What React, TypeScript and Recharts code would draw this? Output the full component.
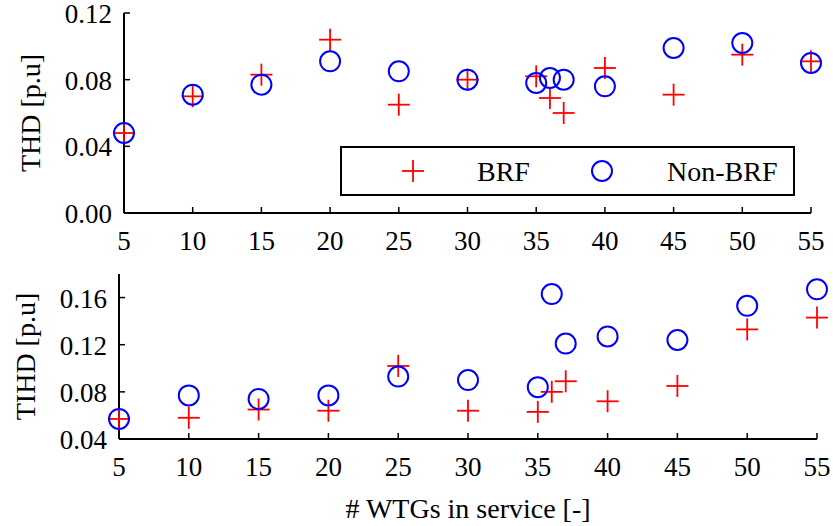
import { ScatterChart, Scatter, XAxis, YAxis, Legend } from "recharts";

const wtgs = [5, 10, 15, 20, 25, 30, 35, 36, 37, 40, 45, 50, 55];
const thdBrf = [0.048, 0.07, 0.083, 0.104, 0.065, 0.08, 0.082, 0.069, 0.06, 0.087, 0.071, 0.095, 0.091];
const thdNonBrf = [0.048, 0.071, 0.077, 0.091, 0.085, 0.08, 0.078, 0.081, 0.08, 0.076, 0.099, 0.102, 0.09];
const tihdBrf = [0.057, 0.058, 0.065, 0.064, 0.102, 0.064, 0.063, 0.08, 0.089, 0.072, 0.085, 0.133, 0.143];
const tihdNonBrf = [0.057, 0.077, 0.074, 0.077, 0.093, 0.09, 0.084, 0.163, 0.121, 0.127, 0.124, 0.153, 0.167];
const xTicks = [5, 10, 15, 20, 25, 30, 35, 40, 45, 50, 55];
const thdTicks = [0, 0.04, 0.08, 0.12];
const tihdTicks = [0.04, 0.08, 0.12, 0.16];

const FONT = "'Liberation Serif', serif";
const FS = 28;
const TICK_FS = 27;

const toPts = (vals: number[]) => wtgs.map((w, i) => ({ x: w, y: vals[i] }));

const Plus = ({ cx, cy }: any) => (
  <g>
    <line x1={cx - 11} x2={cx + 11} y1={cy} y2={cy} stroke="#ff0000" strokeWidth={1.8} />
    <line x1={cx} x2={cx} y1={cy - 11} y2={cy + 11} stroke="#ff0000" strokeWidth={1.8} />
  </g>
);

const Ring = ({ cx, cy }: any) => (
  <circle cx={cx} cy={cy} r={10} fill="none" stroke="#0000ff" strokeWidth={2} />
);

const XTick = ({ x, y, payload }: any) => (
  <g>
    <line x1={x} x2={x} y1={y} y2={y - 6} stroke="#000" strokeWidth={1.5} />
    <text x={x} y={y + 28} textAnchor="middle" dominantBaseline="central" fontFamily={FONT} fontSize={TICK_FS} fill="#000">
      {payload.value}
    </text>
  </g>
);

const YTick = ({ x, y, payload }: any) => (
  <g>
    <line x1={x} x2={x + 6} y1={y} y2={y} stroke="#000" strokeWidth={1.5} />
    <text x={x - 12} y={y + 1} textAnchor="end" dominantBaseline="central" fontFamily={FONT} fontSize={TICK_FS} fill="#000">
      {payload.value.toFixed(2)}
    </text>
  </g>
);

const yLabel = (text: string, cx: number) => ({ viewBox }: any) => (
  <text
    x={cx}
    y={viewBox.y + viewBox.height / 2}
    transform={`rotate(-90, ${cx}, ${viewBox.y + viewBox.height / 2})`}
    textAnchor="middle"
    dominantBaseline="central"
    fontFamily={FONT}
    fontSize={FS}
    fill="#000"
  >
    {text}
  </text>
);

const xLabel = ({ viewBox }: any) => (
  <text
    x={viewBox.x + viewBox.width / 2}
    y={viewBox.y + 69}
    textAnchor="middle"
    dominantBaseline="central"
    fontFamily={FONT}
    fontSize={FS}
    fill="#000"
  >
    # WTGs in service [-]
  </text>
);

const LegendBox = () => (
  <div style={{ width: 455, height: 50, border: "2px solid #000", boxSizing: "border-box", background: "#fff" }}>
    <svg width={451} height={46}>
      <Plus cx={71} cy={23} />
      <text x={135} y={23} dominantBaseline="central" fontFamily={FONT} fontSize={FS} fill="#000">
        BRF
      </text>
      <Ring cx={260} cy={23} />
      <text x={325} y={23} dominantBaseline="central" fontFamily={FONT} fontSize={FS} fill="#000">
        Non-BRF
      </text>
    </svg>
  </div>
);

const axisLine = { stroke: "#000", strokeWidth: 2 };

export default function App() {
  return (
    <div style={{ position: "absolute", left: 0, top: 0, background: "#fff" }}>
      <ScatterChart width={833} height={260} margin={{ top: 13, right: 22, bottom: 0, left: 0 }}>
        <XAxis
          type="number"
          dataKey="x"
          domain={[5, 55]}
          ticks={xTicks}
          height={47}
          tickSize={0}
          tickMargin={0}
          tick={<XTick />}
          axisLine={axisLine}
          tickLine={false}
          interval={0}
        />
        <YAxis
          type="number"
          dataKey="y"
          domain={[0, 0.12]}
          ticks={thdTicks}
          width={124}
          tickSize={0}
          tickMargin={0}
          tick={<YTick />}
          axisLine={axisLine}
          tickLine={false}
          interval={0}
          label={{ content: yLabel("THD [p.u]", 30) }}
        />
        <Legend
          layout="vertical"
          align="center"
          verticalAlign="middle"
          wrapperStyle={{ left: 340, top: 146, width: 455, height: 50 }}
          content={() => <LegendBox />}
        />
        <Scatter name="BRF" data={toPts(thdBrf)} shape={<Plus />} isAnimationActive={false} />
        <Scatter name="Non-BRF" data={toPts(thdNonBrf)} shape={<Ring />} isAnimationActive={false} />
      </ScatterChart>
      <ScatterChart width={833} height={266} margin={{ top: 14, right: 16, bottom: 0, left: 0 }}>
        <XAxis
          type="number"
          dataKey="x"
          domain={[5, 55]}
          ticks={xTicks}
          height={87}
          tickSize={0}
          tickMargin={0}
          tick={<XTick />}
          axisLine={axisLine}
          tickLine={false}
          interval={0}
          label={{ content: xLabel }}
        />
        <YAxis
          type="number"
          dataKey="y"
          domain={[0.04, 0.18]}
          ticks={tihdTicks}
          width={119}
          tickSize={0}
          tickMargin={0}
          tick={<YTick />}
          axisLine={axisLine}
          tickLine={false}
          interval={0}
          allowDataOverflow
          label={{ content: yLabel("TIHD [p.u]", 25) }}
        />
        <Scatter name="BRF" data={toPts(tihdBrf)} shape={<Plus />} isAnimationActive={false} />
        <Scatter name="Non-BRF" data={toPts(tihdNonBrf)} shape={<Ring />} isAnimationActive={false} />
      </ScatterChart>
    </div>
  );
}
